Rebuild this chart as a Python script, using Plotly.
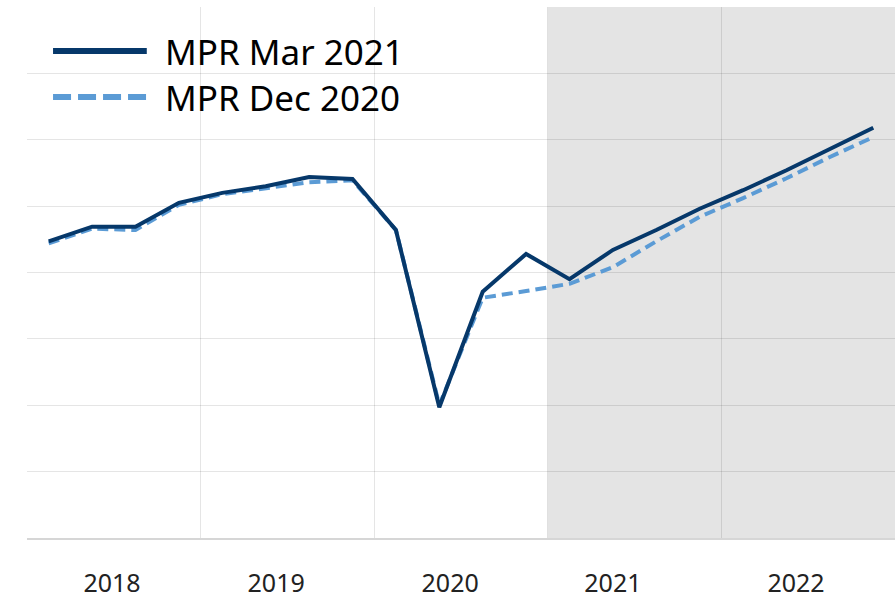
import plotly.graph_objects as go

quarters = [f"{y}Q{q}" for y in range(2018, 2023) for q in range(1, 5)]
years = ["2018", "2019", "2020", "2021", "2022"]
year_label_pos = [1.46, 5.24, 9.25, 13.0, 17.22]

mpr_mar_2021 = [4.47, 4.69, 4.69, 5.05, 5.20, 5.30, 5.44, 5.41,
                4.64, 1.97, 3.71, 4.28, 3.90, 4.34, 4.64, 4.96,
                5.24, 5.54, 5.86, 6.18]
mpr_dec_2020 = [4.44, 4.66, 4.64, 5.02, 5.18, 5.27, 5.36, 5.39,
                4.64, 2.00, 3.62, 3.72, 3.83, 4.08, 4.47, 4.84,
                5.12, 5.42, 5.74, 6.04]

forecast_start = 11.5
x = list(range(len(quarters)))

dark = "#06386a"
light = "#5b9bd5"
font_family = "Noto Sans, Open Sans, DejaVu Sans, sans-serif"

fig = go.Figure()
fig.add_trace(go.Scatter(x=x, y=mpr_dec_2020, mode="lines", name="MPR Dec 2020",
                         line=dict(color=light, width=4, dash="11px,6px"),
                         showlegend=False, hoverinfo="skip"))
fig.add_trace(go.Scatter(x=x, y=mpr_mar_2021, mode="lines", name="MPR Mar 2021",
                         line=dict(color=dark, width=4),
                         showlegend=False, hoverinfo="skip"))

# forecast shading
fig.add_shape(type="rect", xref="x", yref="paper", x0=forecast_start, x1=len(quarters) - 0.5,
              y0=0, y1=1, fillcolor="#e4e4e4", line=dict(width=0), layer="below")

# manual legend
legend_items = [("MPR Mar 2021", dark, "solid", 0.917), ("MPR Dec 2020", light, "18px,7px", 0.8305)]
for label, color, dash, yy in legend_items:
    fig.add_shape(type="line", xref="paper", yref="paper", x0=0.030, x1=0.138, y0=yy, y1=yy,
                  line=dict(color=color, width=6, dash=dash))
    fig.add_annotation(text=label, xref="paper", yref="paper", x=0.157, y=yy,
                       xanchor="left", yanchor="middle", showarrow=False,
                       font=dict(family=font_family, size=35, color="#000000"))

fig.update_layout(
    width=895, height=599,
    margin=dict(l=27, r=0, t=7, b=61, autoexpand=False),
    paper_bgcolor="white", plot_bgcolor="white",
    showlegend=False,
    font=dict(family=font_family, color="#222222"),
)
fig.update_xaxes(
    range=[-0.5, len(quarters) - 0.5],
    tickmode="array", tickvals=year_label_pos, ticktext=years,
    tickfont=dict(size=25, color="#222222"),
    ticks="", ticklen=0, ticklabelstandoff=22, automargin=False,
    showgrid=False, zeroline=False,
    showline=True, linecolor="#d6d6d6", linewidth=2,
    minor=dict(tick0=-0.5, dtick=4, showgrid=True, gridcolor="rgba(0,0,0,0.1)", gridwidth=1, ticks=""),
    fixedrange=True,
)
fig.update_yaxes(
    range=[0, 8], dtick=1, showticklabels=False, ticks="", automargin=False,
    showgrid=True, gridcolor="rgba(0,0,0,0.1)", gridwidth=1,
    zeroline=False, showline=False, fixedrange=True,
)

fig.write_html("out.html", config={"displayModeBar": False},
               post_script="document.body.style.margin='0';document.body.style.overflow='hidden';")
